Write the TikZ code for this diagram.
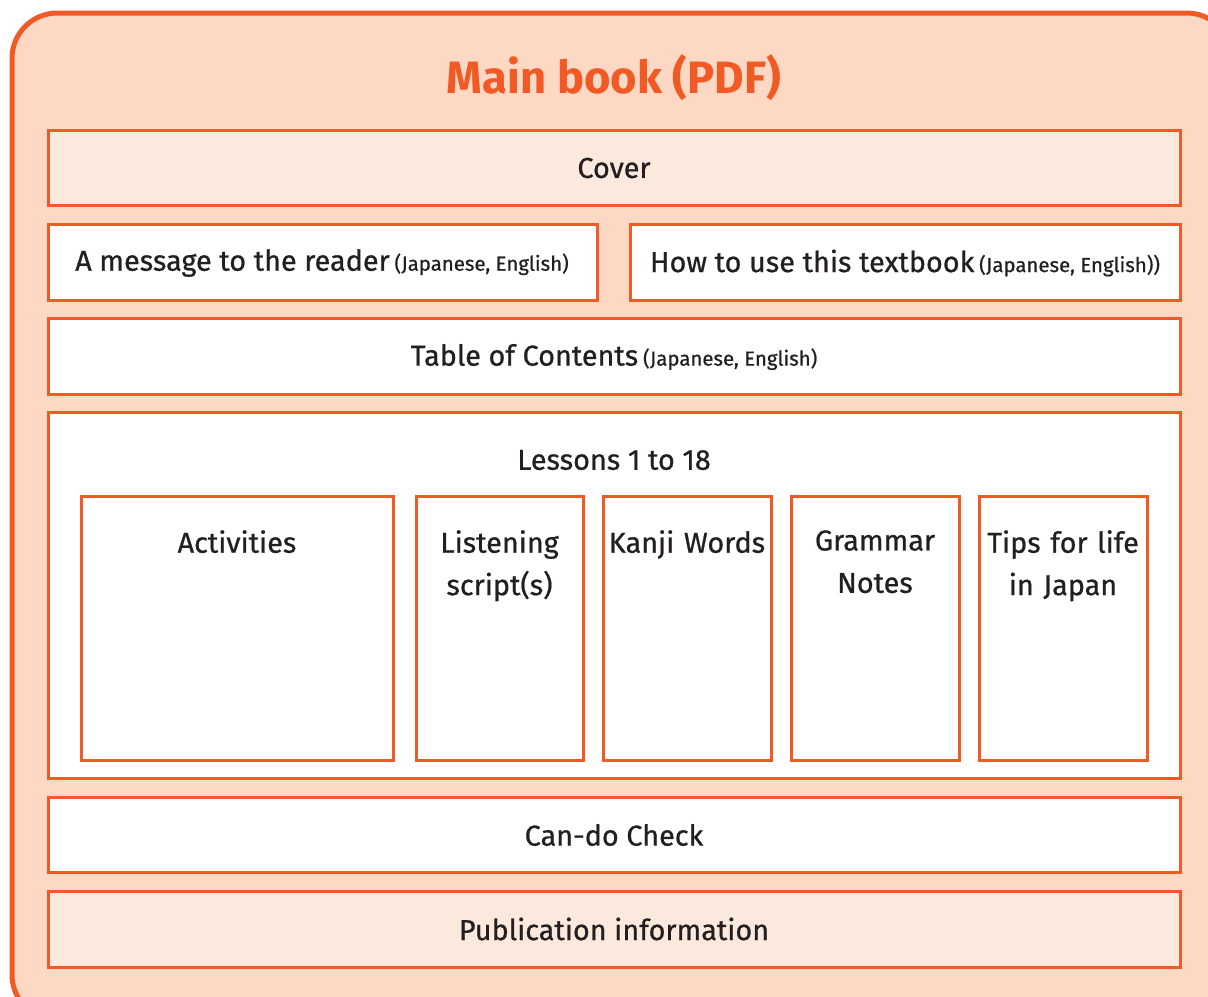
\documentclass[tikz,border=0pt]{standalone}
\usepackage{fontspec}
\setmainfont{Fira Sans}[UprightFeatures={FakeBold=0.7}]
\definecolor{bookorange}{HTML}{F15A24}
\definecolor{bookpeach}{HTML}{FCD8C5}
\definecolor{booklight}{HTML}{FCE9DD}
\definecolor{booktext}{HTML}{231F20}
\newcommand{\langnote}[1]{{\fontsize{15.3}{18}\selectfont#1}}
\tikzset{
    part/.style={draw=bookorange, line width=2.25pt},
    boxtext/.style={text=booktext, font=\fontsize{21.6}{31.8}\selectfont, inner sep=0pt},
    column/.style={boxtext, align=center, text width=#1, anchor=north}
}
\begin{document}
\begin{tikzpicture}[x=0.75pt,y=-0.75pt]
    \useasboundingbox (0,0) rectangle (1208,997);
    \clip (0,0) rectangle (1208,997);
    % outer page
    \filldraw[fill=bookpeach, draw=bookorange, line width=3.75pt, rounded corners=34pt]
        (12,13) rectangle (1232,1020);
    \node[text=bookorange, font=\bfseries\fontsize{34}{38}\selectfont] (title) at (614,78) {Main book (PDF)};
    % cover
    \filldraw[part, fill=booklight] (48,130) rectangle (1180,205);
    \node[boxtext] (cover) at (614,168) {Cover};
    % front matter
    \filldraw[part, fill=white] (48,224) rectangle (597,300);
    \node[boxtext] (message) at (322,263) {A message to the reader\,\langnote{(Japanese, English)}};
    \filldraw[part, fill=white] (630,224) rectangle (1180,300);
    \node[boxtext] (howto) at (905,263) {How to use this textbook\,\langnote{(Japanese, English))}};
    \filldraw[part, fill=white] (48,318) rectangle (1180,394);
    \node[boxtext] (contents) at (614,357) {Table of Contents\,\langnote{(Japanese, English)}};
    % lessons
    \filldraw[part, fill=white] (48,412) rectangle (1180,778);
    \node[boxtext] (lessons) at (614,460) {Lessons 1 to 18};
    \draw[part] (81,496) rectangle (393,760);
    \node[column=230pt] (activities) at (237,530) {Activities};
    \draw[part] (416,496) rectangle (583,760);
    \node[column=122pt] (listening) at (499.5,530) {Listening\\script(s)};
    \draw[part] (603,496) rectangle (771,760);
    \node[column=125pt] (kanji) at (687,530) {Kanji Words};
    \draw[part] (791,496) rectangle (959,760);
    \node[column=122pt] (grammar) at (875,530) {Grammar\\Notes};
    \draw[part] (979,496) rectangle (1147,760);
    \node[column=125pt] (tips) at (1063,530) {Tips for life\\in Japan};
    % back matter
    \filldraw[part, fill=white] (48,797) rectangle (1180,872);
    \node[boxtext] (cando) at (614,835) {Can-do Check};
    \filldraw[part, fill=booklight] (48,891) rectangle (1180,967);
    \node[boxtext] (publication) at (614,929) {Publication information};
\end{tikzpicture}
\end{document}
